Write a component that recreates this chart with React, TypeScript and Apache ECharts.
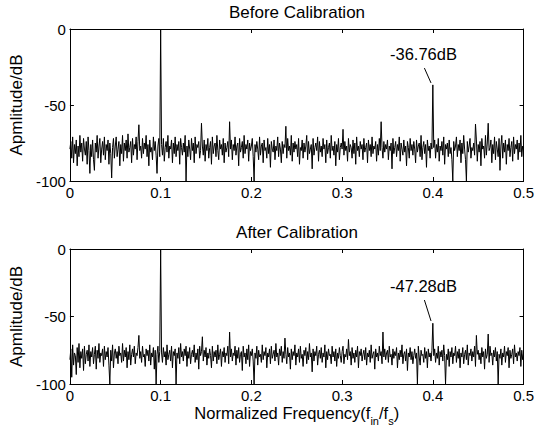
import React, { useEffect, useRef } from "react";
import * as echarts from "echarts";

// Normalized frequency step between spectrum bins (0 .. 0.5)
const FREQ_STEP = 0.001;
const X_TICKS = [0, 0.1, 0.2, 0.3, 0.4, 0.5];
const Y_TICKS = [-100, -50, 0];
const TITLES = ["Before Calibration", "After Calibration"];
const ANNOTATIONS = ["-36.76dB", "-47.28dB"];

// Spectrum before calibration (dB), bins 0..500
const beforeDb = [
  -79, -74, -85, -71, -88, -76, -82, -73, -90, -77, -84, -70, -81, -75, -87, -72, -79, -83, -74, -89, -71, -80, -95, -76, -84,
  -73, -86, -93, -75, -81, -70, -85, -77, -72, -88, -79, -74, -83, -71, -86, -76, -80, -73, -89, -75, -82, -98, -78, -72, -85,
  -77, -71, -84, -79, -74, -90, -76, -82, -70, -87, -75, -80, -73, -85, -69, -81, -78, -74, -88, -72, -83, -76, -79, -71, -86,
  -74, -63, -80, -77, -85, -72, -82, -75, -79, -70, -84, -76, -90, -73, -81, -78, -86, -71, -80, -74, -83, -95, -77, -72, -84,
  0, -76, -83, -72, -87, -78, -74, -81, -70, -85, -77, -79, -73, -88, -75, -82, -71, -84, -76, -80, -74, -89, -72, -78, -83,
  -75, -81, -70, -100, -77, -84, -73, -79, -86, -72, -80, -75, -88, -71, -82, -76, -78, -74, -85, -80, -62, -77, -83, -73, -87,
  -76, -80, -72, -85, -78, -74, -89, -71, -82, -77, -75, -84, -70, -80, -86, -73, -79, -76, -83, -72, -88, -75, -81, -78, -74,
  -84, -61, -79, -73, -86, -76, -80, -71, -83, -77, -75, -90, -72, -81, -78, -74, -85, -70, -82, -76, -79, -73, -87, -75, -80,
  -77, -72, -84, -100, -76, -81, -74, -79, -86, -71, -83, -77, -75, -88, -73, -80, -78, -85, -72, -82, -76, -91, -74, -79, -81,
  -73, -86, -77, -80, -71, -84, -75, -79, -88, -74, -82, -76, -78, -64, -85, -72, -80, -77, -83, -70, -87, -75, -81, -74, -79,
  -76, -84, -72, -89, -78, -80, -73, -85, -75, -81, -77, -70, -86, -74, -82, -79, -76, -92, -72, -83, -78, -75, -80, -71, -87,
  -74, -81, -77, -84, -72, -79, -76, -88, -73, -82, -78, -75, -85, -70, -80, -77, -83, -74, -90, -76, -81, -72, -86, -78, -75,
  -79, -66, -83, -74, -80, -77, -87, -72, -81, -76, -78, -85, -73, -82, -75, -89, -71, -80, -77, -84, -74, -79, -76, -86, -72,
  -81, -78, -75, -88, -73, -80, -76, -84, -71, -82, -77, -79, -74, -87, -76, -83, -72, -80, -61, -78, -85, -74, -81, -76, -79,
  -73, -86, -77, -80, -75, -92, -72, -82, -78, -74, -84, -76, -80, -71, -87, -75, -79, -83, -73, -81, -77, -90, -74, -78, -85,
  -72, -80, -76, -83, -74, -79, -88, -73, -81, -77, -75, -84, -70, -86, -78, -74, -82, -76, -91, -73, -80, -77, -85, -75, -79,
  -36.76, -78, -73, -85, -76, -81, -72, -87, -77, -80, -74, -83, -71, -89, -76, -79, -75, -84, -73, -82, -78, -86, -100, -74, -80,
  -77, -71, -84, -76, -80, -73, -88, -75, -82, -70, -79, -86, -100, -74, -81, -77, -72, -85, -78, -80, -75, -83, -62.5, -73, -87,
  -76, -81, -74, -90, -72, -79, -77, -85, -70, -83, -75, -62, -80, -78, -73, -88, -76, -82, -71, -86, -74, -79, -84, -72, -93,
  -77, -70, -85, -75, -81, -73, -89, -76, -80, -72, -84, -78, -74, -87, -71, -82, -76, -79, -73, -86, -75, -81, -70, -84, -77,
  -78,
];

// Spectrum after calibration (dB), bins 0..500
const afterDb = [
  -82, -74, -95, -71, -86, -77, -79, -93, -73, -84, -70, -88, -76, -81, -74, -90, -72, -85, -78, -75, -83, -71, -87, -76, -80,
  -73, -85, -78, -72, -89, -75, -81, -70, -84, -77, -79, -74, -87, -72, -82, -76, -80, -73, -86, -100, -75, -83, -71, -88, -77,
  -74, -81, -76, -85, -72, -79, -77, -84, -70, -83, -75, -80, -73, -88, -76, -82, -71, -86, -78, -74, -80, -72, -85, -77, -79,
  -73, -64, -81, -76, -84, -72, -80, -78, -87, -74, -79, -75, -83, -71, -86, -77, -80, -73, -89, -75, -100, -78, -72, -84, -76,
  0, -77, -84, -73, -80, -76, -86, -71, -82, -78, -75, -83, -72, -88, -76, -79, -74, -100, -77, -81, -73, -85, -70, -80, -76,
  -83, -74, -79, -72, -87, -76, -81, -73, -85, -78, -75, -80, -71, -84, -77, -82, -74, -89, -72, -79, -76, -65, -83, -75, -80,
  -73, -86, -77, -81, -74, -79, -88, -72, -83, -76, -80, -75, -85, -71, -82, -78, -74, -87, -76, -80, -73, -84, -77, -79, -72,
  -85, -61.5, -80, -74, -83, -77, -79, -72, -86, -75, -81, -73, -84, -78, -76, -90, -72, -80, -77, -85, -74, -82, -71, -87, -76,
  -79, -74, -83, -100, -77, -81, -72, -86, -75, -80, -78, -84, -71, -82, -76, -79, -73, -88, -77, -80, -74, -85, -72, -81, -78,
  -75, -83, -70, -80, -77, -86, -74, -79, -72, -84, -76, -81, -66, -78, -85, -73, -80, -77, -89, -74, -82, -76, -79, -71, -86,
  -77, -80, -74, -84, -72, -81, -78, -87, -75, -79, -73, -85, -76, -82, -70, -80, -77, -91, -74, -83, -76, -79, -72, -86, -78,
  -75, -81, -73, -84, -77, -80, -71, -88, -76, -82, -74, -79, -78, -85, -72, -80, -76, -83, -74, -87, -77, -81, -73, -79, -84,
  -76, -72, -85, -78, -80, -74, -82, -67, -79, -76, -86, -73, -81, -77, -84, -75, -80, -72, -88, -76, -79, -74, -83, -78, -75,
  -82, -73, -86, -77, -80, -75, -84, -71, -81, -78, -76, -89, -74, -80, -77, -83, -72, -79, -76, -85, -61.5, -80, -74, -82, -77,
  -75, -84, -72, -80, -78, -86, -74, -81, -76, -79, -73, -88, -77, -82, -75, -80, -71, -85, -78, -76, -83, -74, -90, -77, -80,
  -73, -82, -76, -85, -79, -74, -81, -77, -100, -72, -80, -86, -75, -79, -78, -84, -73, -81, -76, -88, -74, -80, -77, -83, -75,
  -55, -79, -74, -84, -77, -81, -72, -86, -76, -80, -75, -83, -71, -79, -100, -78, -82, -74, -87, -76, -80, -73, -85, -77, -79,
  -72, -84, -76, -81, -74, -88, -77, -80, -73, -85, -78, -75, -82, -71, -86, -77, -79, -74, -83, -76, -80, -72, -87, -64, -78,
  -75, -82, -77, -85, -73, -80, -76, -89, -74, -81, -78, -63, -84, -72, -79, -77, -86, -75, -80, -73, -83, -76, -100, -78, -81,
  -74, -86, -77, -80, -72, -84, -76, -79, -73, -88, -75, -81, -78, -74, -85, -71, -80, -77, -83, -76, -79, -73, -87, -75, -82,
  -77,
];

// Arrow endpoints (data coords) for the two annotations
const arrowStart = [
  [0.3907, -25.7],
  [0.3907, -37.8],
];
const arrowEnd = [
  [0.398, -35.5],
  [0.398, -53.3],
];

const FONT = "Liberation Sans, Arial, Helvetica, sans-serif";

export default function App() {
  const ref = useRef<HTMLDivElement>(null);

  useEffect(() => {
    if (!ref.current) return;
    const chart = echarts.init(ref.current, null, { renderer: "svg" });

    const grids = [
      { left: 66, top: 29, width: 462, height: 152 },
      { left: 66, top: 249, width: 462, height: 135 },
    ];
    const series = [beforeDb, afterDb];

    const fmt = (v: number) => String(parseFloat(v.toFixed(1)));

    const xAxes: any[] = [];
    const yAxes: any[] = [];
    grids.forEach((_, g) => {
      const base = {
        type: "value",
        gridIndex: g,
        min: X_TICKS[0],
        max: X_TICKS[X_TICKS.length - 1],
        interval: 0.1,
        splitLine: { show: false },
        axisLine: { show: true, onZero: false, lineStyle: { color: "#000", width: 1 } },
        axisTick: { show: true, inside: true, length: 4, lineStyle: { color: "#000" } },
      };
      xAxes.push({
        ...base,
        position: "bottom",
        axisLabel: { show: true, color: "#000", fontSize: 15, fontFamily: FONT, margin: 4, formatter: fmt, hideOverlap: false },
        ...(g === 1
          ? {
              name: "{n|Normalized Frequency(f}{s|in}{n|/f}{s|s}{n|)}",
              nameLocation: "middle",
              nameGap: 20,
              nameTextStyle: {
                color: "#000",
                fontFamily: FONT,
                rich: {
                  n: { fontSize: 16.5, lineHeight: 22, verticalAlign: "top", color: "#000", fontFamily: FONT },
                  s: { fontSize: 11, lineHeight: 22, verticalAlign: "bottom", color: "#000", fontFamily: FONT },
                },
              },
            }
          : {}),
      });
      xAxes.push({ ...base, position: "top", axisLabel: { show: false } });

      const ybase = {
        type: "value",
        gridIndex: g,
        min: Y_TICKS[0],
        max: Y_TICKS[Y_TICKS.length - 1],
        interval: 50,
        splitLine: { show: false },
        axisLine: { show: true, onZero: false, lineStyle: { color: "#000", width: 1 } },
        axisTick: { show: true, inside: true, length: 4, lineStyle: { color: "#000" } },
      };
      yAxes.push({
        ...ybase,
        position: "left",
        axisLabel: { show: true, color: "#000", fontSize: 15, fontFamily: FONT, margin: 4 },
        name: "Apmlitude/dB",
        nameLocation: "middle",
        nameRotate: 90,
        nameGap: 39,
        nameTextStyle: { color: "#000", fontSize: 17, fontFamily: FONT },
      });
      yAxes.push({ ...ybase, position: "right", axisLabel: { show: false } });
    });

    const seriesOpts = series.map((arr, g) => ({
      type: "line",
      xAxisIndex: g * 2,
      yAxisIndex: g * 2,
      data: arr.map((v, i) => [i * FREQ_STEP, v]),
      showSymbol: false,
      symbol: "none",
      lineStyle: { color: "#000", width: 1 },
      silent: true,
      clip: true,
      markLine: {
        silent: true,
        symbol: ["none", "arrow"],
        symbolSize: [0, 8],
        label: { show: false },
        lineStyle: { color: "#000", width: 1, type: "solid" },
        data: [[{ coord: arrowStart[g] }, { coord: arrowEnd[g] }]],
      },
      markPoint: {
        silent: true,
        symbol: "circle",
        symbolSize: 1,
        itemStyle: { color: "rgba(0,0,0,0)" },
        label: {
          show: true,
          position: "top",
          distance: 2,
          color: "#000",
          fontSize: 16.5,
          fontFamily: FONT,
          formatter: ANNOTATIONS[g],
        },
        data: [{ coord: [arrowStart[g][0] - 0.001, arrowStart[g][1] + 2] }],
      },
    }));

    chart.setOption({
      animation: false,
      backgroundColor: "#fff",
      grid: grids.map((gr) => ({ ...gr, show: false, containLabel: false })),
      xAxis: xAxes,
      yAxis: yAxes,
      series: seriesOpts,
      graphic: TITLES.map((t, g) => ({
        type: "text",
        x: grids[g].left + grids[g].width / 2,
        y: grids[g].top - 17,
        style: {
          text: t,
          align: "center",
          verticalAlign: "middle",
          fontSize: 17,
          fontFamily: FONT,
          fill: "#000",
        },
      })),
    });

    return () => chart.dispose();
  }, []);

  return (
    <div
      ref={ref}
      style={{ position: "fixed", left: 0, top: 0, width: 537, height: 430, background: "#fff" }}
    />
  );
}
